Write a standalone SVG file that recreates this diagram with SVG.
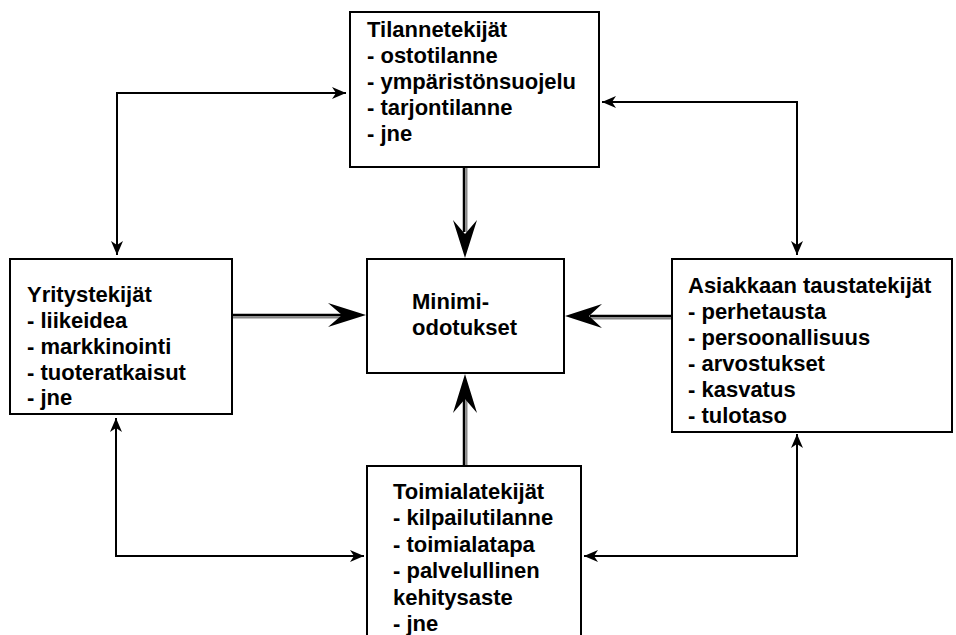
<svg xmlns="http://www.w3.org/2000/svg" width="956" height="635" viewBox="0 0 956 635">
  <style>
    .box { fill: #fff; stroke: #000; stroke-width: 2; }
    .lbl { font-family: "Liberation Sans", Arial, sans-serif; font-weight: bold; font-size: 22px; fill: #000; }
    .thin { fill: none; stroke: #000; stroke-width: 2; }
    .shaft { stroke: #000; stroke-width: 2.5; }
    .shade { stroke: #888; stroke-width: 2; }
    .head { fill: #000; }
  </style>
  <defs>
    <marker id="barb" viewBox="0 0 14 12" refX="14" refY="6" markerWidth="14" markerHeight="12" markerUnits="userSpaceOnUse" orient="auto-start-reverse">
      <path d="M0,0 L14,6 L0,12 L4,6 Z" fill="#000"/>
    </marker>
  </defs>

  <!-- thin two-way links between the outer boxes -->
  <g id="connectors">
    <polyline class="thin" points="117,255 117,93 346,93" marker-start="url(#barb)" marker-end="url(#barb)"/>
    <polyline class="thin" points="602,102 797,102 797,255" marker-start="url(#barb)" marker-end="url(#barb)"/>
    <polyline class="thin" points="116,418 116,556 364,556" marker-start="url(#barb)" marker-end="url(#barb)"/>
    <polyline class="thin" points="797,434 797,556 584,556" marker-start="url(#barb)" marker-end="url(#barb)"/>

    <!-- heavy arrows into the centre box -->
    <line class="shade" x1="466.5" y1="168" x2="466.5" y2="232"/>
    <line class="shaft" x1="464" y1="168" x2="464" y2="232"/>
    <path class="head" d="M465,258 L453,220 L465,234 L477,220 Z"/>

    <line class="shade" x1="233" y1="317.5" x2="342" y2="317.5"/>
    <line class="shaft" x1="233" y1="315" x2="342" y2="315"/>
    <path class="head" d="M366,315 L328,303 L342,315 L328,327 Z"/>

    <line class="shade" x1="671" y1="318.5" x2="590" y2="318.5"/>
    <line class="shaft" x1="671" y1="316" x2="590" y2="316"/>
    <path class="head" d="M565,316 L602,304 L589,316 L602,328 Z"/>

    <line class="shade" x1="466.5" y1="465" x2="466.5" y2="398"/>
    <line class="shaft" x1="464" y1="465" x2="464" y2="398"/>
    <path class="head" d="M465,374 L453,413 L465,399 L477,413 Z"/>
  </g>

  <g id="tilannetekijat">
    <rect class="box" x="350" y="12" width="249" height="155"/>
    <text class="lbl" x="367" y="37">Tilannetekijät</text>
    <text class="lbl" x="367" y="63">- ostotilanne</text>
    <text class="lbl" x="367" y="89">- ympäristönsuojelu</text>
    <text class="lbl" x="367" y="115">- tarjontilanne</text>
    <text class="lbl" x="367" y="141">- jne</text>
  </g>

  <g id="yritystekijat">
    <rect class="box" x="10" y="259" width="222" height="155"/>
    <text class="lbl" x="27" y="302">Yritystekijät</text>
    <text class="lbl" x="27" y="328">- liikeidea</text>
    <text class="lbl" x="27" y="354">- markkinointi</text>
    <text class="lbl" x="27" y="380">- tuoteratkaisut</text>
    <text class="lbl" x="27" y="405">- jne</text>
  </g>

  <g id="minimiodotukset">
    <rect class="box" x="367" y="259" width="197" height="114"/>
    <text class="lbl" x="412" y="309">Minimi-</text>
    <text class="lbl" x="412" y="335">odotukset</text>
  </g>

  <g id="asiakkaan-taustatekijat">
    <rect class="box" x="672" y="259" width="280" height="173"/>
    <text class="lbl" x="688" y="293">Asiakkaan taustatekijät</text>
    <text class="lbl" x="688" y="319">- perhetausta</text>
    <text class="lbl" x="688" y="345">- persoonallisuus</text>
    <text class="lbl" x="688" y="371">- arvostukset</text>
    <text class="lbl" x="688" y="397">- kasvatus</text>
    <text class="lbl" x="688" y="423">- tulotaso</text>
  </g>

  <g id="toimialatekijat">
    <rect class="box" x="367" y="466" width="214" height="180"/>
    <text class="lbl" x="393" y="499">Toimialatekijät</text>
    <text class="lbl" x="393" y="525">- kilpailutilanne</text>
    <text class="lbl" x="393" y="552">- toimialatapa</text>
    <text class="lbl" x="393" y="578">- palvelullinen</text>
    <text class="lbl" x="393" y="605">kehitysaste</text>
    <text class="lbl" x="393" y="631">- jne</text>
  </g>
</svg>
